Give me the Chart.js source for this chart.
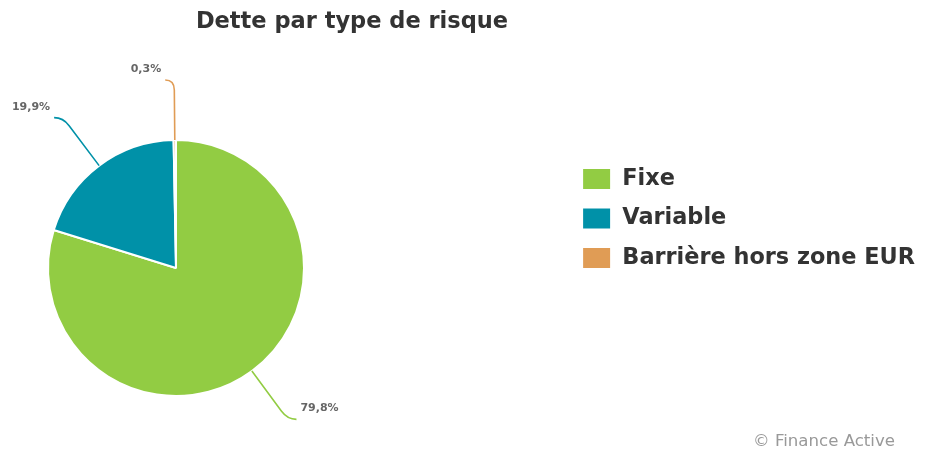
<!DOCTYPE html>
<html>
<head>
<meta charset="utf-8">
<script src="https://cdn.jsdelivr.net/npm/chart.js@4"></script>
<style>
    body { margin: 0; background: #fff; }
    #wrap { position: relative; width: 926px; height: 452px; }
    #title {
        position: absolute; left: 0; top: 7px; width: 704px;
        text-align: center; font: bold 22.5px "DejaVu Sans"; color: #333;
        line-height: 26px;
    }
    #credits {
        position: absolute; right: 31px; top: 431px;
        font: 16.6px "DejaVu Sans"; color: #999; line-height: 20px;
    }
</style>
</head>
<body>
<div id="wrap">
    <canvas id="chart-pie"></canvas>
    <div id="title">Dette par type de risque</div>
    <div id="credits">© Finance Active</div>
</div>
<script>
// data
const categories = ['Fixe', 'Variable', 'Barrière hors zone EUR'];
const values = [79.8, 19.9, 0.3];
const colors = ['#92cc43', '#0091a8', '#e09c55'];

function fmt(v) {
    return v.toFixed(1).replace('.', ',') + '%';
}

// keep the pie on the left part, legend stays on the right
const pieArea = {
    id: 'pieArea',
    afterLayout(chart) {
        Object.assign(chart.chartArea, {
            left: 47, right: 305, top: 139, bottom: 397, width: 258, height: 258
        });
    }
};

// outside labels with connectors
const pieLabels = {
    id: 'pieLabels',
    afterDatasetsDraw(chart) {
        const ctx = chart.ctx;
        const meta = chart.getDatasetMeta(0);
        ctx.save();
        ctx.font = 'bold 11px "DejaVu Sans"';
        ctx.textBaseline = 'middle';
        meta.data.forEach((arc, i) => {
            const p = arc.getProps(['x', 'y', 'startAngle', 'endAngle', 'outerRadius'], true);
            const mid = (p.startAngle + p.endAngle) / 2;
            const cx = Math.cos(mid), cy = Math.sin(mid);
            const r = p.outerRadius;
            const side = cx >= 0 ? 1 : -1;
            const cpx = p.x + (r + 60) * cx, cpy = p.y + (r + 60) * cy;
            const ex = cpx + side * 9, ey = cpy;

            ctx.strokeStyle = colors[i];
            ctx.lineWidth = 1.6;
            ctx.beginPath();
            ctx.moveTo(p.x + r * cx, p.y + r * cy);
            ctx.lineTo(p.x + (r + 50) * cx, p.y + (r + 50) * cy);
            ctx.quadraticCurveTo(cpx, cpy, ex, ey);
            ctx.stroke();

            ctx.fillStyle = '#666';
            ctx.textAlign = side > 0 ? 'left' : 'right';
            ctx.fillText(fmt(values[i]), ex + side * 4, ey - 11);
        });
        ctx.restore();
    }
};

const el = document.getElementById('chart-pie');

new Chart(el, {
    type: 'pie',
    data: {
        labels: categories,
        datasets: [{
            data: values,
            backgroundColor: colors,
            borderColor: '#fff',
            borderWidth: 2
        }]
    },
    options: {
        responsive: true,
        maintainAspectRatio: false,
        animation: false,
        layout: {
            padding: { right: 1, bottom: 15 }
        },
        plugins: {
            legend: {
                position: 'right',
                labels: {
                    boxWidth: 29,
                    boxHeight: 22,
                    padding: 17,
                    color: '#333',
                    font: {
                        family: 'DejaVu Sans',
                        weight: 'bold',
                        size: 22.4
                    }
                }
            },
            tooltip: { enabled: false }
        }
    },
    plugins: [pieArea, pieLabels]
});
</script>
</body>
</html>
